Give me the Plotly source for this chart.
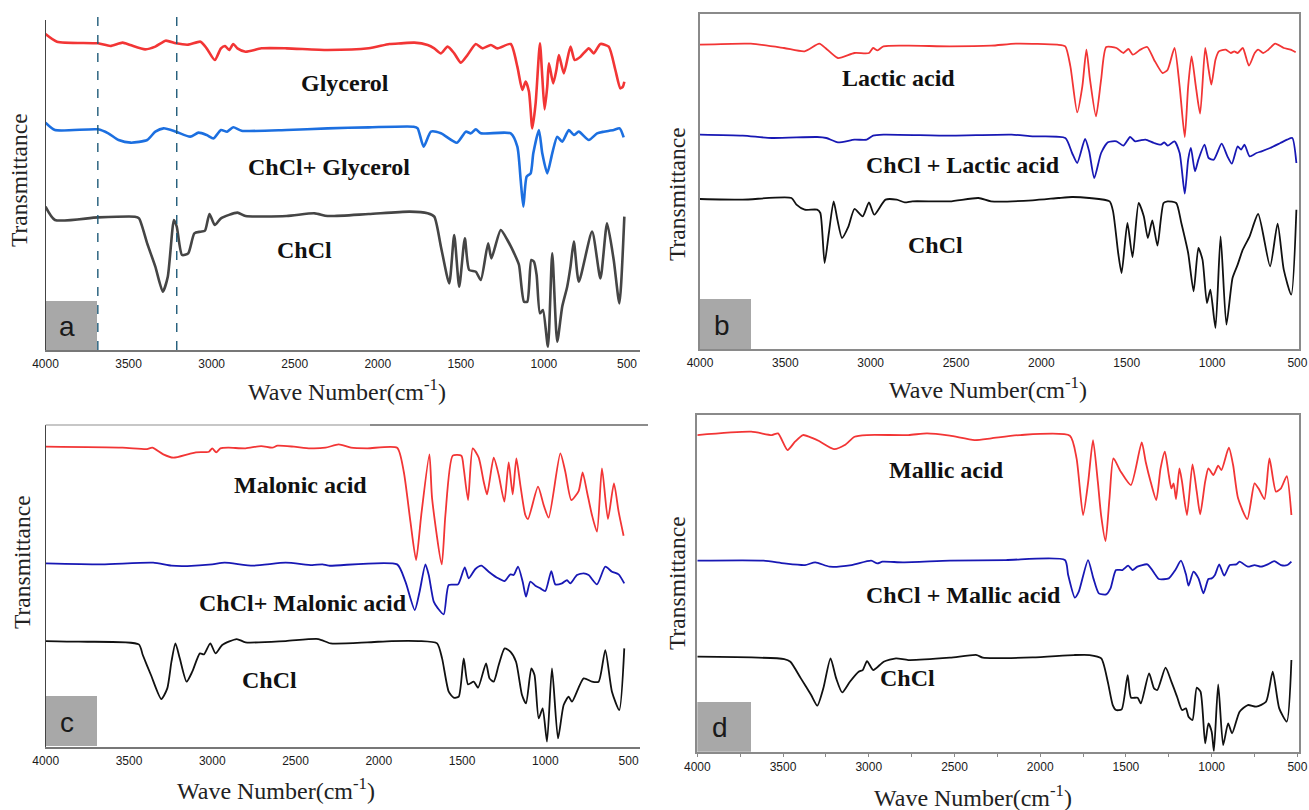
import plotly.graph_objects as go

# ---------------- data (wavenumber cm-1, transmittance a.u.) ----------------
# Panel a
a_gly_wn = [4000, 3931, 3684, 3610, 3536, 3490, 3400, 3339, 3277, 3215, 3141, 3067, 3030, 2981, 2944, 2919, 2895, 2870, 2845, 2796,
            2700, 2549, 2302, 2055, 1930, 1860, 1780, 1700, 1660, 1620, 1580, 1540, 1500, 1460, 1410, 1370, 1320, 1280, 1200, 1160,
            1130, 1110, 1090, 1070, 1050, 1024, 1010, 996, 980, 970, 944, 925, 910, 880, 840, 815, 780, 730, 700, 660,
            610, 570, 540, 525, 516]
a_gly_t = [94.8, 92.5, 92.0, 91.2, 92.2, 91.5, 90.2, 91.0, 92.8, 92.0, 91.6, 92.5, 90.5, 87.0, 90.5, 91.2, 90.0, 91.8, 90.5, 89.5,
           90.5, 90.5, 90.0, 90.5, 91.8, 92.0, 92.2, 91.5, 90.5, 89.0, 91.0, 89.0, 86.2, 88.5, 91.8, 90.5, 91.5, 90.5, 91.8, 85.0,
           78.0, 80.5, 77.5, 66.5, 74.0, 92.0, 82.0, 72.2, 79.0, 86.0, 80.0, 84.0, 88.5, 83.0, 91.0, 87.0, 88.0, 90.5, 89.0, 91.8,
           91.0, 84.0, 78.5, 79.0, 80.5]

a_mix_wn = [4000, 3943, 3684, 3622, 3560, 3487, 3388, 3339, 3289, 3215, 3129, 3079, 3030, 2988, 2944, 2907, 2870, 2820, 2549, 2302,
            2055, 1784, 1760, 1724, 1680, 1620, 1524, 1470, 1440, 1410, 1380, 1200, 1160, 1140, 1124, 1104, 1080, 1064, 1030, 1010,
            980, 950, 920, 890, 850, 820, 790, 730, 680, 640, 580, 544, 520]
a_mix_t = [68.2, 66.0, 66.2, 65.0, 63.0, 62.2, 63.0, 65.5, 66.5, 65.5, 64.0, 65.2, 64.5, 63.5, 66.0, 65.5, 66.8, 65.8, 66.0, 66.5,
           66.8, 67.0, 66.5, 61.0, 65.5, 65.0, 62.2, 65.5, 65.0, 66.2, 65.0, 65.0, 61.0, 51.0, 43.0, 52.0, 53.0, 59.0, 66.0, 59.0,
           53.0, 59.0, 64.0, 62.5, 66.0, 64.5, 65.5, 63.0, 65.0, 65.5, 66.0, 66.5, 63.8]

a_chcl_wn = [4000, 3943, 3684, 3462, 3437, 3388, 3339, 3294, 3264, 3227, 3210, 3178, 3141, 3104, 3067, 3040, 3013, 2981, 2944, 2845,
             2796, 2549, 2380, 2302, 2055, 1808, 1700, 1660, 1620, 1570, 1540, 1510, 1476, 1450, 1410, 1380, 1336, 1316, 1260, 1220,
             1170, 1150, 1120, 1100, 1076, 1060, 1044, 1024, 1006, 976, 950, 920, 890, 860, 840, 820, 790, 710, 660, 620,
             580, 546, 516]
a_chcl_t = [43.0, 39.0, 39.8, 40.0, 39.5, 32.0, 25.0, 17.5, 22.0, 39.0, 37.0, 28.5, 29.0, 35.0, 35.5, 35.8, 40.8, 37.5, 39.5, 41.2,
            40.2, 40.2, 41.0, 40.2, 40.8, 41.5, 41.0, 40.0, 31.0, 20.0, 34.5, 19.0, 33.5, 24.0, 23.5, 21.0, 32.0, 27.5, 36.0, 33.0,
            28.0, 25.5, 14.5, 14.5, 27.0, 26.5, 22.5, 11.0, 12.0, 1.0, 29.0, 2.5, 13.0, 19.0, 25.0, 32.5, 20.5, 35.5, 21.5, 38.0,
            27.0, 14.0, 40.0]
a_marker_wn = [3685, 3210]

# Panel b
b_lac_wn = [4000, 3702, 3508, 3387, 3301, 3265, 3192, 3095, 3010, 2986, 2960, 2925, 2780, 2537, 2295, 2149, 1907, 1860, 1830, 1790,
            1760, 1736, 1715, 1680, 1650, 1620, 1560, 1520, 1490, 1464, 1420, 1380, 1340, 1290, 1260, 1220, 1190, 1160, 1140, 1120,
            1095, 1070, 1040, 1020, 1004, 980, 960, 920, 890, 870, 850, 820, 784, 750, 730, 700, 670, 630, 580, 540, 510]
b_lac_t = [91.3, 91.6, 90.3, 89.3, 91.6, 90.3, 87.3, 88.8, 88.8, 90.3, 89.6, 90.8, 91.0, 90.8, 91.0, 91.6, 91.3, 90.8, 84.8, 71.0,
           78.8, 89.8, 80.8, 69.8, 80.8, 90.6, 90.3, 88.8, 90.0, 88.3, 89.8, 90.6, 86.8, 82.8, 83.8, 90.3, 78.8, 63.6, 78.8, 87.8,
           78.8, 70.6, 90.3, 83.8, 79.3, 86.8, 89.3, 89.8, 88.8, 89.3, 88.8, 90.3, 85.0, 88.8, 89.8, 88.8, 89.8, 91.6, 90.3, 89.8, 89.0]

b_mix_wn = [4000, 3750, 3580, 3314, 3260, 3192, 3095, 3023, 2986, 2925, 2537, 2174, 2052, 1860, 1820, 1790, 1744, 1720, 1690, 1650,
            1610, 1560, 1520, 1480, 1450, 1420, 1390, 1340, 1300, 1280, 1260, 1220, 1190, 1160, 1140, 1124, 1100, 1080, 1044, 1020,
            990, 944, 910, 884, 850, 830, 810, 780, 740, 710, 660, 600, 560, 530, 506]
b_mix_t = [64.3, 64.0, 63.3, 63.6, 63.3, 62.0, 62.8, 62.8, 64.0, 64.3, 64.0, 64.3, 63.8, 63.3, 58.8, 55.8, 63.0, 59.3, 51.3, 58.8,
           62.0, 62.3, 61.0, 63.6, 62.3, 62.6, 62.8, 61.8, 61.3, 62.0, 61.0, 62.3, 58.8, 46.6, 56.8, 60.3, 53.3, 56.8, 61.3, 57.3,
           56.8, 61.6, 57.8, 55.6, 60.8, 59.8, 61.3, 57.8, 58.8, 59.3, 60.3, 61.8, 62.8, 63.3, 55.8]

b_chcl_wn = [4000, 3750, 3464, 3435, 3387, 3314, 3295, 3270, 3245, 3217, 3195, 3168, 3130, 3095, 3047, 3010, 2979, 2913, 2848, 2800,
             2756, 2537, 2368, 2295, 2052, 1900, 1820, 1720, 1600, 1580, 1550, 1530, 1496, 1466, 1430, 1400, 1376, 1350, 1320, 1284,
             1260, 1210, 1180, 1140, 1108, 1080, 1056, 1030, 1010, 980, 950, 916, 880, 850, 820, 780, 730, 660, 616, 580,
             536, 506]
b_chcl_t = [45.0, 44.8, 45.3, 43.3, 41.8, 41.8, 40.8, 25.8, 34.8, 44.3, 38.8, 33.3, 36.8, 42.0, 39.8, 44.0, 40.3, 44.8, 44.8, 44.0,
            44.3, 44.3, 45.3, 44.3, 44.6, 45.3, 45.6, 45.3, 44.3, 41.3, 28.8, 22.8, 37.8, 27.6, 43.8, 39.8, 33.3, 38.6, 31.0, 43.8,
            44.3, 43.8, 37.8, 28.8, 17.3, 30.3, 26.8, 13.8, 17.8, 6.3, 33.8, 7.3, 21.3, 25.3, 29.8, 33.8, 40.5, 24.8, 37.6, 23.8,
            16.3, 41.8]

# Panel c
c_mal_wn = [4000, 3539, 3392, 3360, 3294, 3233, 3147, 3098, 3020, 3000, 2976, 2951, 2902, 2800, 2706, 2640, 2608, 2510, 2412, 2320,
            2240, 2167, 2069, 1890, 1850, 1810, 1776, 1745, 1696, 1680, 1622, 1600, 1556, 1504, 1490, 1464, 1436, 1400, 1370, 1350,
            1310, 1280, 1246, 1220, 1196, 1174, 1150, 1120, 1104, 1044, 1010, 980, 910, 880, 844, 800, 776, 750, 720, 690,
            660, 624, 588, 560, 530]
c_mal_t = [90.0, 89.7, 89.3, 89.7, 87.7, 86.7, 87.7, 88.3, 88.5, 89.5, 88.3, 89.5, 89.7, 89.5, 90.2, 89.7, 90.3, 90.0, 89.5, 89.7,
           90.7, 89.7, 89.5, 89.7, 82.5, 67.5, 56.0, 69.5, 87.7, 74.5, 54.7, 69.5, 87.3, 87.3, 83.5, 74.0, 89.5, 86.7, 79.5, 75.7,
           86.7, 81.5, 73.5, 85.3, 75.7, 86.5, 78.5, 69.5, 68.3, 78.0, 72.5, 68.7, 88.0, 82.5, 74.0, 76.7, 82.3, 76.5, 69.5, 64.5,
           83.5, 68.3, 79.0, 70.5, 63.3]

c_mix_wn = [4000, 3662, 3355, 3245, 3150, 3000, 2926, 2755, 2559, 2400, 2338, 2300, 1890, 1840, 1784, 1755, 1720, 1700, 1670, 1645,
            1610, 1580, 1524, 1484, 1460, 1420, 1384, 1340, 1290, 1244, 1210, 1190, 1164, 1136, 1116, 1090, 1060, 1030, 1000, 964,
            940, 900, 870, 850, 810, 770, 740, 690, 640, 600, 560, 526]
c_mix_t = [55.0, 54.7, 55.2, 54.3, 54.2, 54.7, 55.2, 54.3, 55.2, 54.5, 54.7, 54.3, 54.7, 49.5, 41.0, 46.5, 54.7, 51.5, 43.5, 41.5,
           39.7, 48.5, 48.7, 53.8, 50.5, 53.3, 54.3, 52.5, 50.7, 49.7, 51.7, 51.5, 54.0, 49.5, 45.0, 49.5, 48.3, 47.5, 46.7, 52.7,
           48.7, 49.0, 50.0, 49.0, 51.5, 52.0, 51.5, 48.7, 54.0, 52.5, 51.7, 49.0]

c_chcl_wn = [4000, 3800, 3441, 3417, 3368, 3306, 3270, 3245, 3221, 3195, 3154, 3120, 3074, 3050, 3012, 2980, 2940, 2853, 2800, 2559,
             2363, 2289, 2069, 1922, 1760, 1650, 1620, 1580, 1550, 1520, 1490, 1464, 1430, 1404, 1356, 1335, 1310, 1280, 1244, 1210,
             1176, 1140, 1116, 1084, 1065, 1040, 1016, 990, 960, 924, 890, 860, 840, 770, 720, 680, 640, 600, 556, 526]
c_chcl_t = [31.7, 31.5, 30.7, 27.5, 21.5, 14.3, 17.5, 25.5, 31.0, 26.5, 19.5, 22.5, 28.0, 27.7, 31.0, 28.0, 30.5, 32.3, 31.3, 31.7,
            32.3, 31.0, 31.3, 31.7, 31.7, 31.0, 26.5, 16.5, 14.7, 15.0, 26.5, 18.7, 19.5, 17.7, 25.0, 20.5, 19.5, 24.5, 29.5, 28.5,
            25.5, 15.5, 13.0, 23.5, 21.5, 8.5, 11.5, 1.5, 23.5, 2.5, 12.5, 15.0, 13.5, 20.5, 19.5, 19.5, 29.0, 16.5, 11.0, 29.5]

# Panel d
d_mal_wn = [4000, 3686, 3565, 3529, 3474, 3430, 3384, 3324, 3290, 3203, 3140, 3083, 3010, 2769, 2660, 2527, 2383, 2286, 2117, 1827,
            1788, 1750, 1720, 1692, 1664, 1645, 1619, 1596, 1573, 1530, 1471, 1408, 1385, 1356, 1323, 1298, 1273, 1250, 1235, 1222,
            1208, 1188, 1173, 1144, 1112, 1087, 1067, 1038, 1019, 990, 962, 943, 900, 875, 846, 792, 750, 727, 692, 663,
            625, 596, 562, 535]
d_mal_t = [95.0, 96.0, 95.0, 95.5, 90.5, 93.0, 95.0, 94.0, 93.2, 90.8, 92.0, 94.5, 95.0, 95.0, 95.5, 94.8, 93.5, 94.0, 95.0, 94.8,
           88.0, 71.0, 81.0, 93.5, 81.0, 71.0, 63.2, 76.0, 88.0, 84.0, 80.0, 92.8, 87.0, 81.0, 75.5, 85.0, 90.0, 83.0, 79.0, 80.5,
           75.8, 85.0, 81.0, 71.0, 86.2, 78.0, 71.2, 81.0, 85.0, 83.0, 85.8, 84.5, 91.2, 86.0, 76.0, 69.8, 80.5, 79.0, 75.8, 88.0,
           78.0, 79.0, 82.7, 71.0]

d_mix_wn = [4000, 3614, 3493, 3372, 3312, 3227, 3100, 2986, 2950, 2920, 2800, 2527, 2200, 1856, 1837, 1798, 1775, 1721, 1690, 1658,
            1615, 1590, 1558, 1520, 1487, 1462, 1433, 1375, 1327, 1308, 1250, 1212, 1179, 1150, 1135, 1106, 1077, 1048, 1019, 1000,
            981, 956, 927, 894, 856, 837, 789, 750, 712, 673, 635, 596, 558, 535]
d_mix_t = [57.3, 57.3, 56.5, 56.0, 56.8, 55.5, 56.0, 57.3, 56.5, 57.0, 56.8, 57.3, 57.5, 57.5, 53.0, 46.2, 48.0, 57.5, 52.0, 47.5,
           47.2, 49.0, 54.5, 54.5, 55.8, 54.5, 55.5, 56.2, 53.0, 51.8, 52.0, 54.5, 57.3, 53.2, 49.8, 54.0, 52.0, 47.5, 51.8, 52.0,
           53.0, 56.2, 52.8, 56.0, 56.2, 57.0, 55.5, 56.0, 55.5, 56.2, 57.2, 56.0, 56.0, 57.0]

d_chcl_wn = [4000, 3493, 3457, 3396, 3336, 3300, 3265, 3223, 3190, 3155, 3110, 3059, 3035, 3010, 2974, 2913, 2841, 2769, 2527, 2370,
             2335, 2045, 1803, 1712, 1644, 1606, 1577, 1558, 1525, 1490, 1470, 1432, 1413, 1365, 1336, 1317, 1269, 1235, 1202, 1173,
             1150, 1135, 1112, 1087, 1065, 1038, 1019, 1000, 987, 962, 933, 904, 881, 837, 789, 740, 683, 644, 606, 562, 535]
d_chcl_t = [28.5, 27.8, 27.0, 22.0, 17.0, 13.8, 19.0, 28.0, 22.0, 17.8, 21.0, 24.0, 24.5, 27.2, 24.5, 27.0, 28.0, 27.5, 28.2, 29.0,
            28.2, 28.3, 29.0, 29.0, 28.0, 21.0, 14.0, 12.5, 12.7, 23.0, 16.2, 16.2, 14.5, 23.5, 19.0, 18.5, 25.2, 21.0, 16.5, 12.5,
            13.0, 10.5, 9.5, 19.2, 18.0, 2.5, 8.5, 6.0, 0.2, 20.2, 2.0, 8.5, 5.5, 12.0, 14.0, 13.5, 15.0, 24.0, 13.0, 9.0, 27.5]

tick_vals = [4000, 3500, 3000, 2500, 2000, 1500, 1000, 500]

# ---------------- layout geometry (pixels) ----------------
W, H = 1309, 810
def fx(p): return p / W
def fy(p): return 1 - p / H

geo = {
    "a": dict(x0=45.5, x500=627.0, xend=640.0, yb=350.0, yt=20.0),
    "b": dict(x0=700.0, x500=1297.4, xend=1298.5, yb=349.0, yt=14.0),
    "c": dict(x0=45.7, x500=628.6, xend=640.0, yb=746.7, yt=425.0),
    "d": dict(x0=697.3, x500=1297.4, xend=1298.5, yb=751.7, yt=415.0),
}

fig = go.Figure()

RED = "#f23535"
BLUE_A = "#1c6fe0"
BLUE = "#1818b4"
BLK_A = "#454545"
BLK = "#111111"

series = [
    ("a", a_gly_wn, a_gly_t, RED, 2.6), ("a", a_mix_wn, a_mix_t, BLUE_A, 2.6), ("a", a_chcl_wn, a_chcl_t, BLK_A, 2.6),
    ("b", b_lac_wn, b_lac_t, RED, 1.8), ("b", b_mix_wn, b_mix_t, BLUE, 1.8), ("b", b_chcl_wn, b_chcl_t, BLK, 1.8),
    ("c", c_mal_wn, c_mal_t, RED, 1.8), ("c", c_mix_wn, c_mix_t, BLUE, 1.8), ("c", c_chcl_wn, c_chcl_t, BLK, 1.8),
    ("d", d_mal_wn, d_mal_t, RED, 1.8), ("d", d_mix_wn, d_mix_t, BLUE, 1.8), ("d", d_chcl_wn, d_chcl_t, BLK, 1.8),
]
axid = {"a": "", "b": "2", "c": "3", "d": "4"}

for p, xs, ys, col, lw in series:
    fig.add_trace(go.Scatter(x=xs, y=ys, mode="lines", xaxis="x" + axid[p], yaxis="y" + axid[p],
                             line=dict(color=col, width=lw, shape="spline", smoothing=0.6),
                             hoverinfo="skip", showlegend=False))

layout = dict(width=W, height=H, margin=dict(l=0, r=0, t=0, b=0, autoexpand=False), paper_bgcolor="white",
              plot_bgcolor="white", showlegend=False)

for p, g in geo.items():
    k = axid[p]
    xr_end = 4000 - (g["xend"] - g["x0"]) / (g["x500"] - g["x0"]) * 3500
    boxed = p in ("b", "d")
    xa = dict(domain=[fx(g["x0"]), fx(g["xend"])], range=[4000, xr_end], tickvals=tick_vals,
              ticktext=[str(v) for v in tick_vals], showgrid=False, zeroline=False, automargin=False,
              showline=True, linecolor="#8a8a8a" if boxed else "#777777", linewidth=1.6,
              mirror=boxed, ticks="outside", ticklen=3 if p == "d" else 2,
              tickcolor="#888888" if p == "d" else "rgba(0,0,0,0)",
              tickfont=dict(family="Liberation Sans", size=12, color="#1a1a1a"),
              anchor="y" + k, fixedrange=True)
    if p == "d":
        xa["minor"] = dict(ticks="outside", ticklen=3, dtick=250, tickcolor="#888888")
    ya = dict(domain=[fy(g["yb"]), fy(g["yt"])], range=[0, (g["yb"] - g["yt"]) * 0.3],
              showgrid=False, zeroline=False, showticklabels=False, ticks="", automargin=False,
              showline=True, linecolor="#8a8a8a" if boxed else "#444444", linewidth=1.3 if not boxed else 1.6,
              mirror=boxed, anchor="x" + k, fixedrange=True)
    layout["xaxis" + k] = xa
    layout["yaxis" + k] = ya

fig.update_layout(**layout)

shapes = []
# dashed marker lines in panel a
for wn in a_marker_wn:
    shapes.append(dict(type="line", xref="x", yref="paper", x0=wn, x1=wn, y0=fy(350), y1=fy(12),
                       line=dict(color="#1e5a78", width=1.4, dash="dash")))
# gray letter boxes
boxes = {"a": (45.5, 97, 301, 350), "b": (700, 751, 299, 349), "c": (45.7, 97, 696, 746), "d": (697.3, 751, 702, 751.7)}
for p, (x0, x1, y0, y1) in boxes.items():
    shapes.append(dict(type="rect", xref="paper", yref="paper", x0=fx(x0), x1=fx(x1), y0=fy(y1), y1=fy(y0),
                       fillcolor="#a8a8a8", line=dict(width=0), layer="below"))
# panel c top border
shapes.append(dict(type="line", xref="paper", yref="paper", x0=fx(45.7), x1=fx(370), y0=fy(425), y1=fy(425),
                   line=dict(color="#b5b5b5", width=1.5)))
shapes.append(dict(type="line", xref="paper", yref="paper", x0=fx(370), x1=fx(648), y0=fy(425), y1=fy(425),
                   line=dict(color="#666666", width=1.5)))

ann = []
def txt(x, y, s, size=22, bold=True, angle=0, family="Liberation Serif", color="#111111"):
    ann.append(dict(x=fx(x), y=fy(y), xref="paper", yref="paper", text=("<b>%s</b>" % s) if bold else s,
                    showarrow=False, textangle=angle, xanchor="center", yanchor="middle",
                    font=dict(family=family, size=size, color=color)))

curve_labels = [
    (345, 83, "Glycerol"), (329, 167, "ChCl+ Glycerol"), (304, 250, "ChCl"),
    (898, 78, "Lactic acid"), (963, 165, "ChCl + Lactic acid"), (935, 245, "ChCl"),
    (300, 485, "Malonic acid"), (303, 603, "ChCl+ Malonic acid"), (269, 680, "ChCl"),
    (946, 470, "Mallic acid"), (963, 595, "ChCl + Mallic acid"), (907, 678, "ChCl"),
]
for x, y, s in curve_labels:
    txt(x, y, s, size=24)

for x, y in [(347, 390), (988, 388), (276, 789), (973, 796)]:
    txt(x, y, "Wave Number(cm<sup>-1</sup>)", size=24, bold=False, color="#222222")
for x, y in [(19, 180), (677, 194), (22, 562), (677, 583)]:
    txt(x, y, "Transmittance", size=23.5, bold=False, angle=-90, color="#222222")

for (p, (x0, x1, y0, y1)) in boxes.items():
    txt((x0 + x1) / 2 - 4, (y0 + y1) / 2 + 1, p, size=28, bold=False, family="Liberation Sans", color="#1a1a1a")

fig.update_layout(shapes=shapes, annotations=ann)
fig.write_html("out.html")
